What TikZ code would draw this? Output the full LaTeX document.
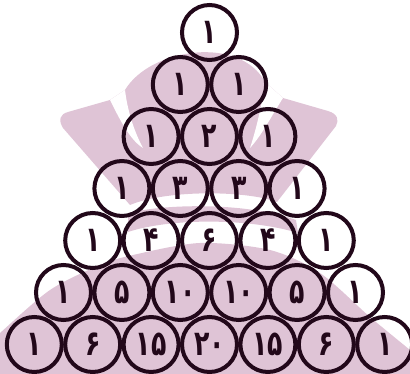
\documentclass[tikz,border=0pt]{standalone}
\usepackage{fontspec}
\newfontfamily\fadigits[Script=Arabic,FakeStretch=0.72]{DejaVu Sans}
\definecolor{logopink}{HTML}{DFC4D6}
\definecolor{ringcol}{HTML}{22081A}
\tikzset{
  pcell/.style={circle, draw=ringcol, line width=4pt, minimum size=55pt, inner sep=0pt,
    text=ringcol, font=\fadigits\bfseries\fontsize{35pt}{35pt}\selectfont}
}
\begin{document}
\begin{tikzpicture}[x=1pt,y=-1pt]
\useasboundingbox (0,0) rectangle (410,374);
\clip (0,0) rectangle (410,374);
% logo background
\fill[logopink] (63,128) .. controls (58,120) and (60,114) .. (68,112) -- (110,100) -- (125,90)
  .. controls (150,48) and (240,35) .. (265,82) -- (283,98) -- (328,111)
  .. controls (338,114) and (339,120) .. (336,126) -- (277,202)
  .. controls (245,190) and (165,190) .. (130,205) -- cycle;
\fill[white] (110,100) .. controls (120,120) and (130,140) .. (143,148)
  .. controls (136,135) and (128,115) .. (125,90) -- cycle;
\fill[white] (283,98) .. controls (272,115) and (262,135) .. (250,148)
  .. controls (256,130) and (262,105) .. (265,82) -- cycle;
\fill[logopink] (128,213) .. controls (170,203) and (250,203) .. (296,220) -- (298,233)
  .. controls (250,218) and (170,218) .. (128,232) -- cycle;
\fill[logopink] plot[smooth] coordinates {(-5,338) (0,333) (50,290) (100,265) (133,255) (200,243) (270,250) (320,273) (370,317) (410,350) (415,355)}
  -- (415,380) -- (-5,380) -- cycle;
% Pascal triangle
\node[pcell] (a0) at (209.5,32.5) {۱};
\node[pcell] (b0) at (180.3,84.5) {۱};
\node[pcell] (b1) at (238.7,84.5) {۱};
\node[pcell] (c0) at (151.1,136.5) {۱};
\node[pcell] (c1) at (209.5,136.5) {۲};
\node[pcell] (c2) at (267.9,136.5) {۱};
\node[pcell] (d0) at (121.9,188.5) {۱};
\node[pcell] (d1) at (180.3,188.5) {۳};
\node[pcell] (d2) at (238.7,188.5) {۳};
\node[pcell] (d3) at (297.1,188.5) {۱};
\node[pcell] (e0) at (92.7,240.5) {۱};
\node[pcell] (e1) at (151.1,240.5) {۴};
\node[pcell] (e2) at (209.5,240.5) {۶};
\node[pcell] (e3) at (267.9,240.5) {۴};
\node[pcell] (e4) at (326.3,240.5) {۱};
\node[pcell] (f0) at (63.5,292.5) {۱};
\node[pcell] (f1) at (121.9,292.5) {۵};
\node[pcell] (f2) at (180.3,292.5) {۱۰};
\node[pcell] (f3) at (238.7,292.5) {۱۰};
\node[pcell] (f4) at (297.1,292.5) {۵};
\node[pcell] (f5) at (355.5,292.5) {۱};
\node[pcell] (g0) at (34.3,344.5) {۱};
\node[pcell] (g1) at (92.7,344.5) {۶};
\node[pcell] (g2) at (151.1,344.5) {۱۵};
\node[pcell] (g3) at (209.5,344.5) {۲۰};
\node[pcell] (g4) at (267.9,344.5) {۱۵};
\node[pcell] (g5) at (326.3,344.5) {۶};
\node[pcell] (g6) at (384.7,344.5) {۱};
\end{tikzpicture}
\end{document}
